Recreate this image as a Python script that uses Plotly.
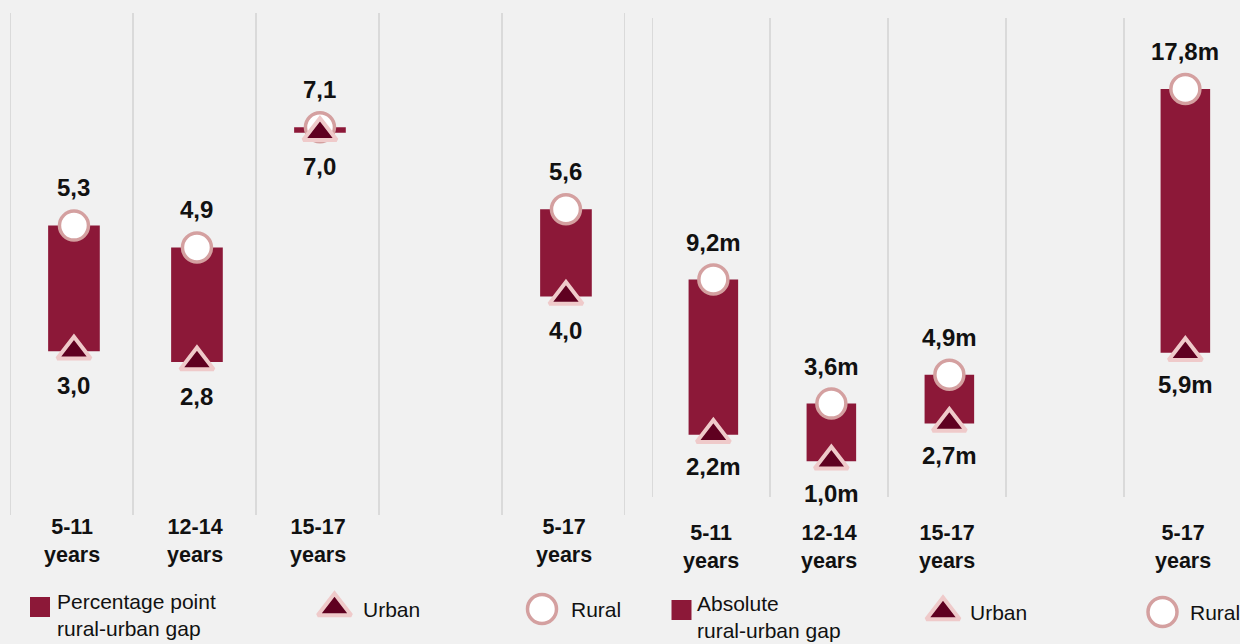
import plotly.graph_objects as go

# ---- data -------------------------------------------------------------
# Percentage-point panel (rural vs urban rates, per age group)
pp_groups = ["5-11", "12-14", "15-17", "", "5-17"]
pp_rural = [5.3, 4.9, 7.1, None, 5.6]
pp_urban = [3.0, 2.8, 7.0, None, 4.0]

# Absolute panel (millions of children)
abs_groups = ["5-11", "12-14", "15-17", "", "5-17"]
abs_rural = [9.2, 3.6, 4.9, None, 17.8]
abs_urban = [2.2, 1.0, 2.7, None, 5.9]

# ---- styling ----------------------------------------------------------
W, H = 1240, 644
BG = "#f1f1f1"
BAR = "#8c1838"
TRI_FILL = "#5f0020"
TRI_EDGE = "#efcaca"
CIRC_EDGE = "#d4a0a0"
GRID = "#d2d2d2"
FONT = "Liberation Sans, Arial, sans-serif"
INK = "#111111"

TRI_MARKER = dict(symbol="triangle-up", size=29, color=TRI_FILL,
                  line=dict(color=TRI_EDGE, width=4))
CIRC_MARKER = dict(symbol="circle", size=29, color="white",
                   line=dict(color=CIRC_EDGE, width=3.5))


def px_y(p):
    """Convert a pixel row (from the top) to paper coordinates."""
    return 1 - p / H


def fmt(v, unit=""):
    return f"{v:.1f}".replace(".", ",") + unit


fig = go.Figure()

panels = [
    dict(groups=pp_groups, rural=pp_rural, urban=pp_urban, unit="",
         xa="x", ya="y", cat_y=541, up=38, down=-34),
    dict(groups=abs_groups, rural=abs_rural, urban=abs_urban, unit="m",
         xa="x2", ya="y2", cat_y=547, up=37, down=-32),
]

annotations = []
shapes = []

for p in panels:
    idx = [i for i, r in enumerate(p["rural"]) if r is not None]
    xs = [i + 0.52 for i in idx]
    rur = [p["rural"][i] for i in idx]
    urb = [p["urban"][i] for i in idx]

    # gap bar spanning urban -> rural
    fig.add_trace(go.Bar(
        x=xs, y=[r - u for r, u in zip(rur, urb)], base=urb, width=0.42,
        marker=dict(color=BAR, line=dict(width=0)),
        xaxis=p["xa"], yaxis=p["ya"], showlegend=False, hoverinfo="skip",
    ))
    # rural circles
    fig.add_trace(go.Scatter(
        x=xs, y=rur, mode="markers", marker=CIRC_MARKER,
        xaxis=p["xa"], yaxis=p["ya"], showlegend=False, hoverinfo="skip",
    ))
    # urban triangles
    fig.add_trace(go.Scatter(
        x=xs, y=urb, mode="markers", marker=TRI_MARKER,
        xaxis=p["xa"], yaxis=p["ya"], showlegend=False, hoverinfo="skip",
    ))

    # value labels
    for x, r, u in zip(xs, rur, urb):
        annotations.append(dict(
            x=x, y=r, xref=p["xa"], yref=p["ya"], text=f"<b>{fmt(r, p['unit'])}</b>",
            showarrow=False, yshift=p["up"], font=dict(family=FONT, size=24, color=INK),
        ))
        annotations.append(dict(
            x=x, y=u, xref=p["xa"], yref=p["ya"], text=f"<b>{fmt(u, p['unit'])}</b>",
            showarrow=False, yshift=p["down"], font=dict(family=FONT, size=24, color=INK),
        ))

    # category labels under each column
    for i, g in enumerate(p["groups"]):
        if not g:
            continue
        annotations.append(dict(
            x=i + 0.5, y=px_y(p["cat_y"]), xref=p["xa"], yref="paper",
            text=f"<b>{g}<br>years</b>", showarrow=False, yanchor="middle",
            font=dict(family=FONT, size=21.5, color=INK),
        ))

# column separators
for k in range(6):
    shapes.append(dict(type="line", xref="x", yref="y domain", x0=k, x1=k, y0=0, y1=1,
                       line=dict(color=GRID, width=1.5), layer="below"))
for k in range(5):
    shapes.append(dict(type="line", xref="x2", yref="y2 domain", x0=k, x1=k, y0=0, y1=1,
                       line=dict(color=GRID, width=1.5), layer="below"))

# ---- key along the bottom (drawn on a pixel-scaled overlay axis) -------
key_sq_x = [40, 681.5]
key_sq_y = [607, 610]
key_tri_x = [334.5, 943]
key_tri_y = [608, 612]
key_circ_x = [542, 1162.5]
key_circ_y = [609, 612]

fig.add_trace(go.Scatter(
    x=key_sq_x, y=key_sq_y, mode="markers",
    marker=dict(symbol="square", size=20, color=BAR, line=dict(width=0)),
    xaxis="x3", yaxis="y3", showlegend=False, hoverinfo="skip",
))
fig.add_trace(go.Scatter(
    x=key_circ_x, y=key_circ_y, mode="markers", marker=CIRC_MARKER,
    xaxis="x3", yaxis="y3", showlegend=False, hoverinfo="skip",
))
fig.add_trace(go.Scatter(
    x=key_tri_x, y=key_tri_y, mode="markers", marker=TRI_MARKER,
    xaxis="x3", yaxis="y3", showlegend=False, hoverinfo="skip",
))

key_text = [
    (55, 615, "Percentage point<br>rural-urban gap"),
    (361, 609, "Urban"),
    (569, 609, "Rural"),
    (695, 617, "Absolute<br>rural-urban gap"),
    (968, 612, "Urban"),
    (1188, 612, "Rural"),
]
for x, y, t in key_text:
    annotations.append(dict(
        x=x, y=y, xref="x3", yref="y3", text=t, showarrow=False,
        xanchor="left", yanchor="middle", align="left",
        font=dict(family=FONT, size=21, color=INK),
    ))

# ---- axes ---------------------------------------------------------------
hidden = dict(showgrid=False, zeroline=False, showticklabels=False, ticks="",
              showline=False, fixedrange=True)

left_zero, left_scale = 515, 54.6
right_zero, right_scale = 483.4, 22.16

fig.update_layout(
    width=W, height=H,
    margin=dict(l=0, r=0, t=0, b=0),
    paper_bgcolor=BG, plot_bgcolor="rgba(0,0,0,0)",
    barmode="overlay",
    xaxis=dict(domain=[10 / W, 625 / W], range=[0, 5], **hidden),
    yaxis=dict(domain=[px_y(515), px_y(13)],
               range=[(left_zero - 515) / left_scale, (left_zero - 13) / left_scale], **hidden),
    xaxis2=dict(domain=[652 / W, 1], range=[0, (W - 652) / 118], anchor="y2", **hidden),
    yaxis2=dict(domain=[px_y(497), px_y(18)], anchor="x2",
                range=[(right_zero - 497) / right_scale, (right_zero - 18) / right_scale], **hidden),
    xaxis3=dict(domain=[0, 1], range=[0, W], anchor="y3", **hidden),
    yaxis3=dict(domain=[0, 1], range=[H, 0], anchor="x3", **hidden),
    annotations=annotations,
    shapes=shapes,
    font=dict(family=FONT, color=INK),
)

fig.write_html("out.html")
